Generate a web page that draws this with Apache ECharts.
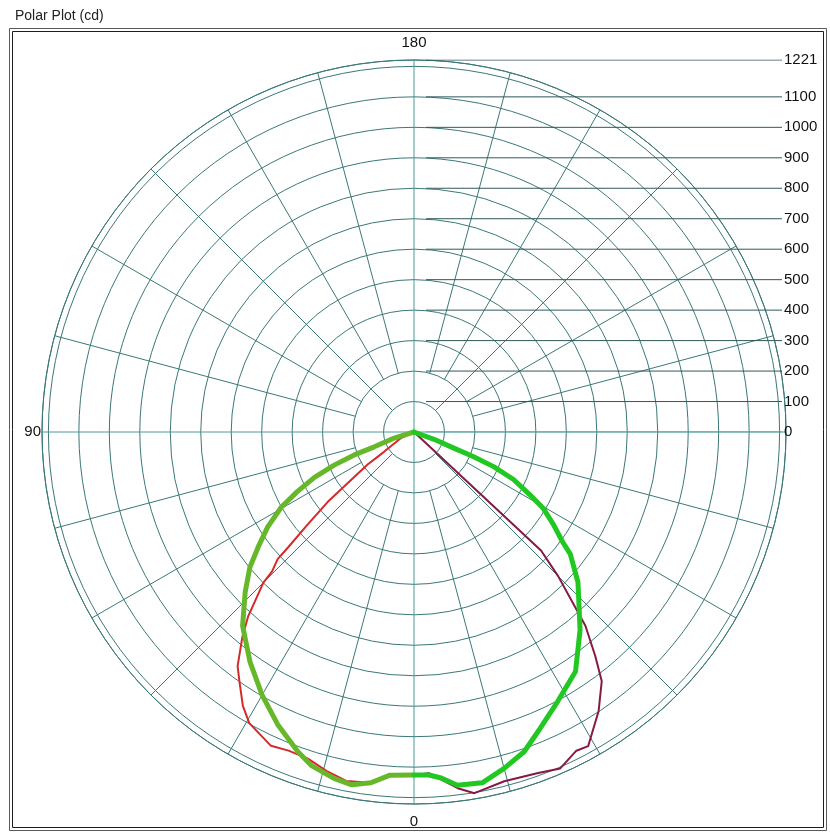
<!DOCTYPE html>
<html>
<head>
<meta charset="utf-8">
<script src="https://cdn.jsdelivr.net/npm/echarts@6/dist/echarts.min.js"></script>
<style>html,body{margin:0;padding:0;background:#fff}#c{width:830px;height:836px}</style>
</head>
<body>
<div id="c"></div>
<script>
// ---- data ----
const maxIntensity = 1221;
const scaleValues = [0, 100, 200, 300, 400, 500, 600, 700, 800, 900, 1000, 1100, 1221];
const angleLabelValues = [0, 90, 180];
const spokeAngles = [0,15,30,45,60,75,90,105,120,135,150,165,180,195,210,225,240,255,270,285,300,315,330,345];

// gamma angles (0 = down) and intensities (cd)
const greenLeftGamma = [0, 4, 7, 10, 13, 17, 20, 25, 30, 35.5, 41.5, 46.5, 50.5, 53.5, 57, 60.5, 63, 65.5, 67.5, 69, 69.5, 73, 90];
const greenLeftCd    = [1126, 1129, 1160, 1176, 1167, 1146, 1116, 1059, 997, 927, 849, 764, 698, 637, 573, 500, 429, 359, 282, 210, 139, 68, 0];

const greenRightGamma = [0, 2.5, 4.5, 7, 11, 15, 19, 23, 28, 34, 40, 47.5, 52, 53.5, 56.5, 59.5, 61.5, 64.5, 66.5, 67.5, 68, 70, 90];
const greenRightCd    = [1126, 1127, 1139, 1168, 1173, 1143, 1110, 1058, 1003, 948, 848, 730, 651, 607, 548, 491, 434, 362, 285, 212, 141, 70, 0];

const redLeftGamma = [0, 4, 7, 11, 14.5, 18, 21.5, 24.5, 29.5, 32, 35, 37, 40, 42, 45, 45.5, 47, 47.5, 49, 51, 55, 56.5, 65, 90];
const redLeftCd    = [1126, 1129, 1160, 1167, 1149, 1127, 1124, 1132, 1098, 1060, 999, 962, 876, 813, 699, 653, 612, 561, 463, 364, 187, 118, 47, 0];

const maroonRightGamma = [0, 2.5, 7, 9.5, 14.5, 20, 23.5, 27, 29, 33.5, 37, 39, 41.5, 42.5, 45, 47, 50, 90];
const maroonRightCd    = [1126, 1121, 1178, 1202, 1184, 1191, 1204, 1174, 1179, 1098, 1024, 945, 849, 788, 669, 570, 0, 0];

// ---- layout / style ----
const CX = 414, CY = 432, R = 372;
const gridColor = '#3b7878';
const axisColor = '#4a9a9a';
const scaleColor = '#30585a';
const font = 'Liberation Sans, Arial, sans-serif';

const leftPts  = (g, v) => g.map((a, i) => [v[i], a]);
const rightPts = (g, v) => g.map((a, i) => [v[i], 360 - a]);

const series = [];

// spokes
spokeAngles.forEach(a => {
  const start = a % 90 === 0 ? 0 : (a % 45 === 0 ? 100 : 200);
  series.push({
    type: 'line', coordinateSystem: 'polar', silent: true, symbol: 'none', z: 1,
    lineStyle: { color: a % 90 === 0 ? axisColor : gridColor, width: 1 },
    data: [[start, a], [maxIntensity, a]], animation: false
  });
});

// horizontal scale lines with labels
scaleValues.forEach(v => {
  series.push({
    type: 'line', xAxisIndex: 0, yAxisIndex: 0, silent: true, symbol: 'none', z: 2,
    lineStyle: { color: v === 0 ? axisColor : scaleColor, width: 1 },
    data: [[0, v], [1, v]], animation: false,
    endLabel: { show: true, formatter: String(v), color: '#111', fontSize: 15, fontFamily: font, distance: 2 }
  });
});

// curves
const curve = (data, color, width, z) => ({
  type: 'line', coordinateSystem: 'polar', symbol: 'none', smooth: false, z: z,
  lineStyle: { color: color, width: width, join: 'round', cap: 'round' },
  data: data, animation: false
});
series.push(curve(leftPts(redLeftGamma, redLeftCd), '#d42a2a', 2, 5));
series.push(curve(rightPts(maroonRightGamma, maroonRightCd), '#861a44', 2, 5));
series.push(curve(leftPts(greenLeftGamma, greenLeftCd), '#66b82a', 5, 6));
series.push(curve(rightPts(greenRightGamma, greenRightCd), '#22c822', 5, 6));

const chart = echarts.init(document.getElementById('c'), null, { renderer: 'canvas' });
chart.setOption({
  animation: false,
  backgroundColor: '#fff',
  title: {
    text: 'Polar Plot (cd)', left: 10, top: 4,
    textStyle: { fontSize: 14, fontWeight: 'normal', color: '#222', fontFamily: font }
  },
  graphic: [
    { type: 'rect', shape: { x: 9.5, y: 28.5, width: 817, height: 802 }, style: { fill: 'none', stroke: '#5a5a5a', lineWidth: 1 }, silent: true },
    { type: 'rect', shape: { x: 12.5, y: 31.5, width: 811, height: 796 }, style: { fill: 'none', stroke: '#1e1e1e', lineWidth: 1 }, silent: true }
  ],
  polar: { center: [CX, CY], radius: R },
  angleAxis: {
    type: 'value', min: 0, max: 360, interval: 90, startAngle: 270, clockwise: true,
    axisLine: { show: true, lineStyle: { color: gridColor, width: 1 } },
    axisTick: { show: false },
    splitLine: { show: false },
    axisLabel: {
      show: true, margin: 1, color: '#111', fontSize: 15, fontFamily: font,
      formatter: v => angleLabelValues.indexOf(v) < 0 ? '' : (v === 90 ? '{s|90}' : '{v|' + v + '}'),
      rich: {
        s: { color: '#111', fontSize: 15, fontFamily: font },
        v: { color: '#111', fontSize: 15, fontFamily: font, padding: [9, 0, 9, 0] }
      }
    }
  },
  radiusAxis: {
    type: 'value', min: 0, max: maxIntensity, interval: 100,
    axisLine: { show: false }, axisTick: { show: false }, axisLabel: { show: false },
    splitLine: { show: true, lineStyle: { color: gridColor, width: 1 } }
  },
  grid: { left: 426, top: CY - R, width: 782 - 426, height: R },
  xAxis: { type: 'value', min: 0, max: 1, show: false },
  yAxis: { type: 'value', min: 0, max: maxIntensity, show: false },
  series: series
});
</script>
</body>
</html>
